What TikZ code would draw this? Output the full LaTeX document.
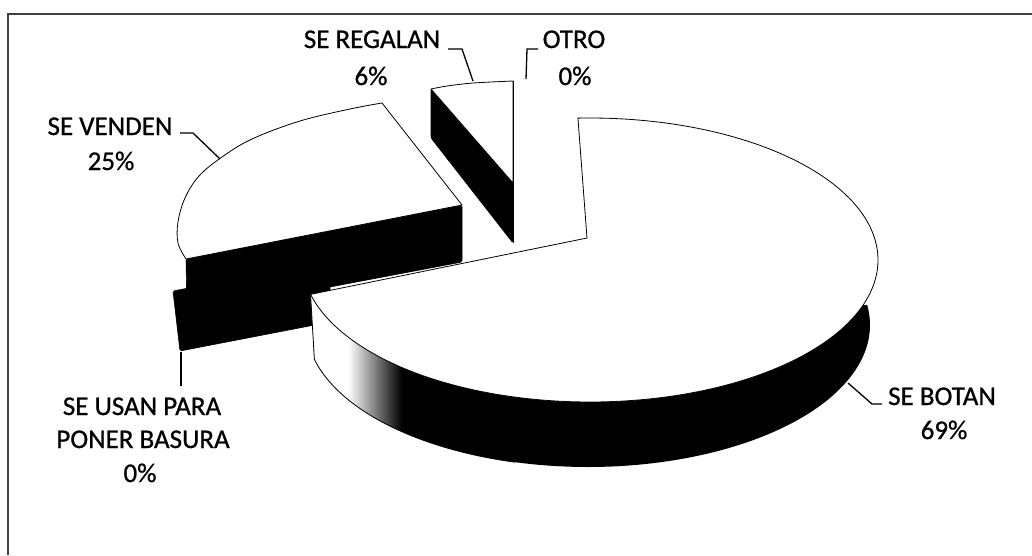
\documentclass[tikz,border=0pt]{standalone}
\usepackage{fontspec}
\setmainfont{Carlito}
\newfontfamily\lblfont{Carlito}[FakeBold=0.8]
\begin{document}
\begin{tikzpicture}[x=1pt,y=-1pt]
\tikzset{
  lbl/.style={font=\lblfont\fontsize{27}{33}\selectfont, anchor=base, inner sep=0pt, text=black},
  leader/.style={line width=1.3pt, black},
  rim/.style={line width=0.8pt, black},
  cutface/.style={fill=black, draw=black, line width=0.6pt, rounded corners=1.5pt},
  topface/.style={fill=white, draw=black, line width=0.8pt, line join=round},
  frameline/.style={line width=1.3pt, black!75}
}
\useasboundingbox (0,0) rectangle (1032,555);
\fill[white] (0,0) rectangle (1032,555);
% frame
\draw[frameline] (8,555) -- (8,14) -- (1032,14);

% SE USAN PARA (0%) cut face
\filldraw[cutface] (173,291) -- (330,261) -- (330,322) -- (180,351) -- cycle;
% SE VENDEN cut face and top face
\filldraw[cutface] (186,259) -- (462,205) -- (462,262) -- (187,314) -- cycle;
\filldraw[topface] (462,205) -- (186,259) -- plot[smooth, tension=0.6] coordinates {(186,259) (178,243) (178,222) (185,198) (199,176) (222,157) (252,139) (300,121) (350,109) (382,103)} -- cycle;

% SE REGALAN
\filldraw[cutface] (431,89) -- (513,183) -- (513,243) -- (431,138) -- cycle;
\filldraw[topface] (513,183) -- (431,89) -- plot[smooth] coordinates {(431,89) (447,86) (473,83) (513,81)} -- cycle;
\draw[rim] (513,81) -- (513,243);

% SE BOTAN wall
\def\wallpath{plot[domain=18.5:166, samples=120, variable=\t] ({590+288*cos(\t)},{260+142*sin(\t)})
  -- plot[domain=-166:8.1, samples=120, variable=\t] ({588+282*cos(-\t)},{325+142*sin(-\t)}) -- cycle}
\fill[black] \wallpath;
\begin{scope}
  \clip \wallpath;
  \fill[white] (290,250) rectangle (348,480);
  \shade[left color=white, right color=black] (348,250) rectangle (402,480);
\end{scope}
\draw[rim] plot[domain=105:166, samples=60, variable=\t] ({588+282*cos(\t)},{325+142*sin(\t)})
  -- ({590+288*cos(166)},{260+142*sin(166)});
% SE BOTAN top face
\filldraw[topface] (587,238) -- plot[domain=-92.4:166, samples=160, variable=\t] ({590+288*cos(\t)},{260+142*sin(\t)}) -- cycle;

% labels
\node[lbl] (venA) at (110,135) {SE VENDEN};
\node[lbl] (venB) at (111,170) {25\%};
\node[lbl] (regA) at (372,48) {SE REGALAN};
\node[lbl] (regB) at (371,85) {6\%};
\node[lbl] (otrA) at (574,48) {OTRO};
\node[lbl] (otrB) at (575,85) {0\%};
\node[lbl] (botA) at (942,405) {SE BOTAN};
\node[lbl] (botB) at (944,439) {69\%};
\node[lbl] (usaA) at (142,415) {SE USAN PARA};
\node[lbl] (usaB) at (143,448) {PONER BASURA};
\node[lbl] (usaC) at (140,482) {0\%};

% leaders
\coordinate (v1) at (180,133); \coordinate (v2) at (193,133); \coordinate (v3) at (220,159);
\coordinate (r1) at (448,49); \coordinate (r2) at (462,49); \coordinate (r3) at (473,81);
\coordinate (o1) at (538,49); \coordinate (o2) at (527,49); \coordinate (o3) at (526,79);
\coordinate (b1) at (882,404); \coordinate (b2) at (872,404); \coordinate (b3) at (848,383);
\coordinate (u1) at (181,386); \coordinate (u2) at (181,352);
\draw[leader] (v1) -- (v2) -- (v3);
\draw[leader] (r1) -- (r2) -- (r3);
\draw[leader] (o1) -- (o2) -- (o3);
\draw[leader] (b1) -- (b2) -- (b3);
\draw[leader] (u1) -- (u2);
\end{tikzpicture}
\end{document}
